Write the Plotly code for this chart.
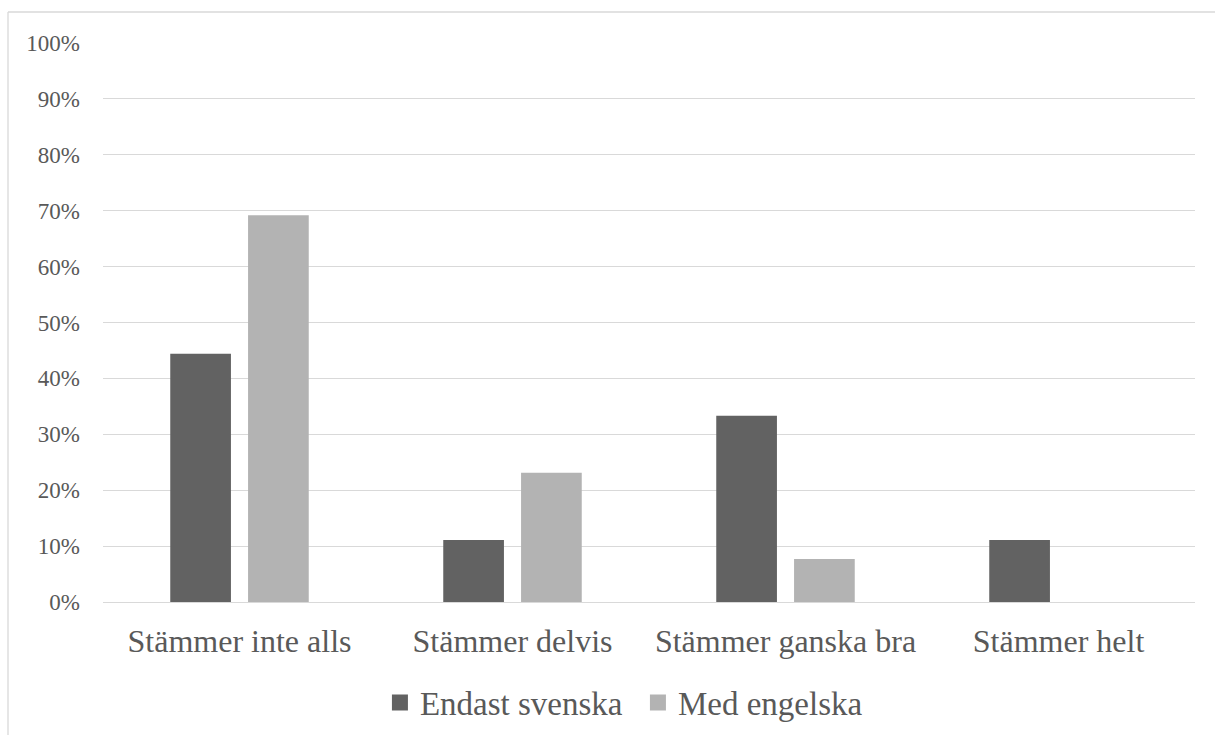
import plotly.graph_objects as go

categories = ["Stämmer inte alls", "Stämmer delvis", "Stämmer ganska bra", "Stämmer helt"]
endast_svenska = [0.444, 0.111, 0.333, 0.111]
med_engelska = [0.692, 0.231, 0.077, 0.0]
y_ticks = [i / 10 for i in range(11)]
y_tick_labels = [f"{i * 10}%" for i in range(11)]

FONT = "Liberation Serif"
TEXT = "#595959"
GRID = "#d9d9d9"
DARK = "#626262"
LIGHT = "#b3b3b3"

fig = go.Figure()
fig.add_trace(go.Bar(name="Endast svenska", x=categories, y=endast_svenska,
                     marker=dict(color=DARK, line=dict(width=0)), showlegend=False))
fig.add_trace(go.Bar(name="Med engelska", x=categories, y=med_engelska,
                     marker=dict(color=LIGHT, line=dict(width=0)), showlegend=False))

# legend keys with larger square swatches
for name, color in [("Endast svenska", DARK), ("Med engelska", LIGHT)]:
    fig.add_trace(go.Scatter(name=name, x=[None], y=[None], mode="markers",
                             marker=dict(symbol="square", size=17, color=color)))

fig.update_layout(
    width=1215, height=735,
    margin=dict(l=103, r=20, t=43, b=133, autoexpand=False),
    paper_bgcolor="white", plot_bgcolor="white",
    barmode="group", bargap=0.43, bargroupgap=0.22,
    font=dict(family=FONT, color=TEXT),
    showlegend=True,
    legend=dict(orientation="h", x=0.2536, xanchor="left", y=-0.18, yanchor="middle",
                font=dict(size=33, family=FONT, color=TEXT), itemwidth=30,
                entrywidth=213, entrywidthmode="pixels",
                traceorder="normal", itemclick=False),
    xaxis=dict(showgrid=False, showline=False, ticks="", automargin=False,
               tickfont=dict(size=32, family=FONT, color=TEXT),
               ticklabelstandoff=17),
    yaxis=dict(range=[0, 1], tickvals=y_ticks, ticktext=y_tick_labels, automargin=False,
               showgrid=True, gridcolor=GRID, gridwidth=1.3,
               zeroline=True, zerolinecolor=GRID, zerolinewidth=1.3,
               showline=False, ticks="",
               tickfont=dict(size=23, family=FONT, color=TEXT),
               ticklabelstandoff=22),
    shapes=[
        dict(type="line", xref="paper", yref="paper", x0=-0.087, x1=1.1, y0=1.0555, y1=1.0555,
             line=dict(color=GRID, width=1.3)),
        dict(type="line", xref="paper", yref="paper", x0=-0.087, x1=-0.087, y0=1.0555, y1=-0.3,
             line=dict(color=GRID, width=1.3)),
    ],
)

fig.write_html("out.html")
